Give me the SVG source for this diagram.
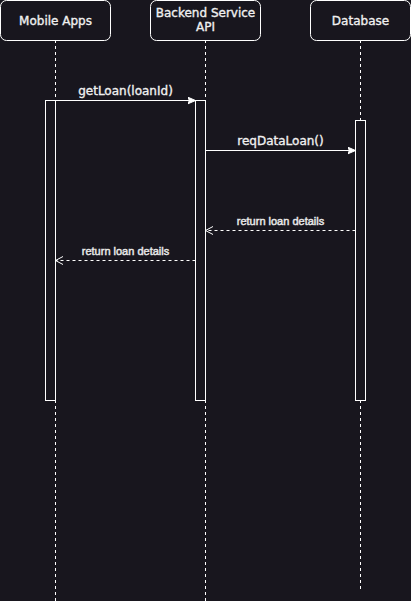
<svg xmlns="http://www.w3.org/2000/svg" width="411" height="601" viewBox="0 0 411 601">
<style>
.bg{fill:#18161e}
.box{fill:#18161e;stroke:#ffffff;stroke-width:1}
.act{fill:#18161e;stroke:#ffffff;stroke-width:1}
.life{stroke:#ffffff;stroke-width:1;stroke-dasharray:3 3;fill:none}
.msg{stroke:#ffffff;stroke-width:1;fill:none}
.ret{stroke:#ffffff;stroke-width:1;stroke-dasharray:3 3;fill:none}
.t{font-family:"DejaVu Sans",sans-serif;font-size:12px;fill:#f0f0f0;stroke:#f0f0f0;stroke-width:0.35;text-anchor:middle}
.s{font-family:"Liberation Sans",Arial,sans-serif;font-size:11px;fill:#e8e8e8;stroke:#e8e8e8;stroke-width:0.45;text-anchor:middle}
</style>
<defs>
<marker id="fill" markerWidth="10" markerHeight="8" refX="8" refY="4" orient="auto" markerUnits="userSpaceOnUse">
<path d="M0,0.5 L8,4 L0,7.5 L2,4 Z" fill="#ffffff" stroke="#ffffff" stroke-width="1"/>
</marker>
<marker id="open" markerWidth="10" markerHeight="10" refX="8.5" refY="5" orient="auto" markerUnits="userSpaceOnUse">
<path d="M1,1 L8.5,5 L1,9" fill="none" stroke="#ffffff" stroke-width="1"/>
</marker>
</defs>
<rect class="bg" x="0" y="0" width="411" height="601"/>
<g id="lifelines">
<line class="life" x1="55.5" y1="40" x2="55.5" y2="601"/>
<line class="life" x1="205.5" y1="40" x2="205.5" y2="601"/>
<line class="life" x1="360.5" y1="40" x2="360.5" y2="590"/>
</g>
<g id="node-mobile">
<rect class="box" x="0.5" y="0.5" width="110" height="40" rx="6"/>
<text class="t" x="55.5" y="24.5">Mobile Apps</text>
</g>
<g id="node-backend">
<rect class="box" x="150.5" y="0.5" width="110" height="40" rx="6"/>
<text class="t" x="205.5" y="17">Backend Service</text>
<text class="t" x="205.5" y="31">API</text>
</g>
<g id="node-database">
<rect class="box" x="310.5" y="0.5" width="100" height="40" rx="6"/>
<text class="t" x="360.5" y="24.5">Database</text>
</g>
<g id="act-mobile"><rect class="act" x="45.5" y="100.5" width="10" height="300"/></g>
<g id="act-backend"><rect class="act" x="195.5" y="100.5" width="10" height="300"/></g>
<g id="act-database"><rect class="act" x="355.5" y="120.5" width="10" height="280"/></g>
<g id="connectors">
<line class="msg" x1="55.5" y1="100.5" x2="195.5" y2="100.5" marker-end="url(#fill)"/>
<text class="t" x="125.5" y="95">getLoan(loanId)</text>
<line class="msg" x1="205.5" y1="150.5" x2="355.5" y2="150.5" marker-end="url(#fill)"/>
<text class="t" x="280.5" y="145">reqDataLoan()</text>
<line class="ret" x1="355.5" y1="230.5" x2="205.5" y2="230.5" marker-end="url(#open)"/>
<text class="s" x="280.5" y="224.5">return loan details</text>
<line class="ret" x1="195.5" y1="260.5" x2="55.5" y2="260.5" marker-end="url(#open)"/>
<text class="s" x="125.5" y="254.5">return loan details</text>
</g>
</svg>
